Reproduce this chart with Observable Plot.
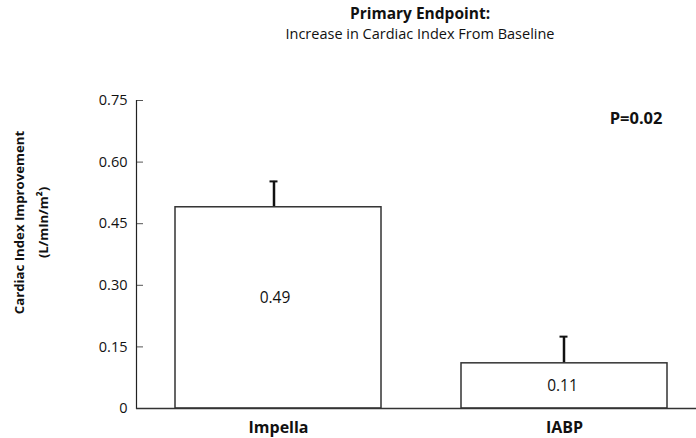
<!DOCTYPE html>
<html>
<head>
<meta charset="utf-8">
<script src="https://cdn.jsdelivr.net/npm/d3@7"></script>
<script src="https://cdn.jsdelivr.net/npm/@observablehq/plot@0.6"></script>
<style>
  html, body { margin: 0; padding: 0; background: #fff; }
  body { width: 696px; height: 438px; overflow: hidden; font-family: "Open Sans", sans-serif; }
  #head { height: 50px; position: relative; color: #111; }
  #head div { position: absolute; left: 0; width: 840px; text-align: center; line-height: 20px; white-space: nowrap; }
  #head .t1 { top: 3px; font-weight: bold; font-size: 15.5px; }
  #head .t2 { top: 24px; font-size: 14.5px; }
  svg { display: block; }
</style>
</head>
<body>
<div id="head">
  <div class="t1">Primary Endpoint:</div>
  <div class="t2">Increase in Cardiac Index From Baseline</div>
</div>
<div id="chart"></div>
<script>
const groups = ["Impella", "IABP"];
const values = [0.49, 0.11];
const errors = [0.063, 0.065];
const yTicks = [0, 0.15, 0.30, 0.45, 0.60, 0.75];
const yTickLabels = ["0", "0.15", "0.30", "0.45", "0.60", "0.75"];
const pValue = "P=0.02";
const yLabel1 = "Cardiac Index Improvement";
const yLabel2 = "(L/mIn/m²)";

const data = groups.map((g, i) => ({group: g, value: values[i], top: values[i] + errors[i], label: values[i].toFixed(2)}));
const first = data.filter((d) => d.group === groups[0]);
const second = data.filter((d) => d.group === groups[1]);

function errorMarks(rows, dx) {
  return [
    Plot.ruleX(rows, {x: "group", y1: "value", y2: "top", stroke: "#111", strokeWidth: 2.5, dx}),
    Plot.tickY(rows, {x: "group", y: "top", stroke: "#111", strokeWidth: 2, insetLeft: 99, insetRight: 99, dx})
  ];
}

const chart = Plot.plot({
  width: 696,
  height: 388,
  marginLeft: 136,
  marginRight: 0,
  marginTop: 50,
  marginBottom: 30,
  style: {fontFamily: "'Open Sans', sans-serif", color: "#111", background: "#fff"},
  x: {domain: groups, range: [175, 667], paddingInner: 0.28, paddingOuter: 0},
  y: {domain: [0, 0.75]},
  marks: [
    Plot.axisY({ticks: yTicks, tickFormat: (d) => yTickLabels[yTicks.indexOf(d)], tickSize: -7, tickPadding: 16, fontSize: 14.5, stroke: "#555", label: null}),
    Plot.frame({anchor: "left", stroke: "#222", strokeWidth: 1.2}),
    Plot.axisX({tickSize: 0, tickPadding: 13, fontSize: 16, fontWeight: "bold", label: null}),
    ...errorMarks(first, -4.5),
    ...errorMarks(second, -0.5),
    Plot.barY(data, {x: "group", y: "value", fill: "#fff", stroke: "#333", strokeWidth: 1.5}),
    Plot.ruleY([0], {stroke: "#333", strokeWidth: 1.5}),
    Plot.text(first, {x: "group", y: (d) => d.value / 2, text: "label", fontSize: 15.5, fill: "#111", dx: -3.5, dy: -10}),
    Plot.text(second, {x: "group", y: (d) => d.value / 2, text: "label", fontSize: 15.5, fill: "#111", dx: -2}),
    Plot.text([pValue], {frameAnchor: "top-right", dx: -34, dy: 18, text: (d) => d, fontSize: 16.5, fontWeight: "bold", textAnchor: "end", lineAnchor: "middle"}),
    Plot.text([yLabel1], {frameAnchor: "left", dx: -117, dy: -32, rotate: -90, text: (d) => d, fontSize: 13.2, fontWeight: "bold", textAnchor: "middle", lineAnchor: "middle"}),
    Plot.text([yLabel2], {frameAnchor: "left", dx: -93, dy: -32, rotate: -90, text: (d) => d, fontSize: 13.2, fontWeight: "bold", textAnchor: "middle", lineAnchor: "middle"})
  ]
});
document.getElementById("chart").appendChild(chart);
</script>
</body>
</html>
